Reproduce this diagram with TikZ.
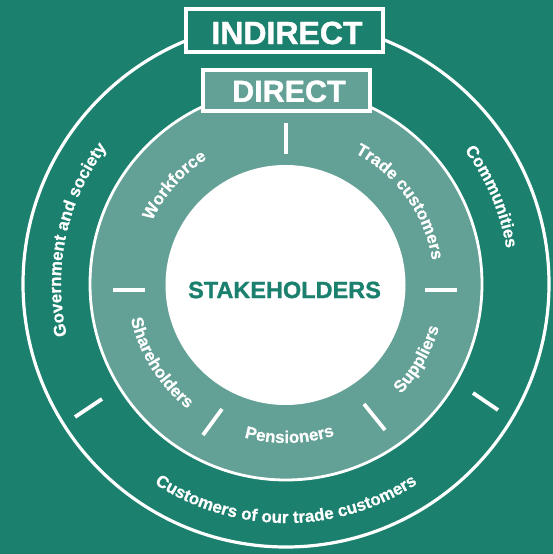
\documentclass[tikz,border=0pt]{standalone}
\usepackage{fontspec}
\setmainfont{Liberation Sans}
\newfontfamily\heavyfont{Liberation Sans Bold}[FakeBold=1.2]
\newfontfamily\ringfont{Liberation Sans Bold}[FakeBold=0.6]
\usetikzlibrary{decorations.text,calc}
\definecolor{darkteal}{RGB}{27,128,109}
\definecolor{lightteal}{RGB}{99,160,149}
\newcommand\curvefont{\fontsize{17}{17}\ringfont}
\newcommand\ringtextcw[3]{\path[decorate,decoration={text along path,text align=center,text color=white,text={|\curvefont|#3}}] ($(C)+({#1+60}:#2)$) arc[start angle={#1+60},end angle={#1-60},radius=#2];}
\newcommand\ringtextccw[3]{\path[decorate,decoration={text along path,text align=center,text color=white,text={|\curvefont|#3}}] ($(C)+({#1-60}:#2)$) arc[start angle={#1-60},end angle={#1+60},radius=#2];}
\begin{document}
\begin{tikzpicture}[x=1pt,y=1pt,
  divider/.style={white,line width=3.8pt},
  boxlabel/.style={text=white,inner sep=0pt}]
\useasboundingbox (0,0) rectangle (553,554);
\fill[darkteal] (0,0) rectangle (553,554);
\coordinate (C) at (286,270);
% rings
\draw[white,line width=3.2pt] (C) circle[radius=263];
\draw[white,line width=2.8pt,fill=lightteal] (C) circle[radius=196];
\fill[white] (285.5,269) circle[radius=120];
% inner dividers
\draw[divider] (286,431) -- (286,400);
\draw[divider] (113,264) -- (145,264);
\draw[divider] (425,264) -- (457,264);
\draw[divider] (203,119) -- (222,145);
\draw[divider] (364,150) -- (385,124);
% outer dividers
\draw[divider] (75,137) -- (102,155);
\draw[divider] (473,161) -- (498,144);
% centre
\node[font=\fontsize{23.5}{24}\heavyfont,text=darkteal,inner sep=0pt] (stake) at (284.5,264) {STAKEHOLDERS};
% boxes
\node[draw=white,line width=4pt,fill=darkteal,minimum width=197pt,minimum height=43pt,inner sep=0pt] (indirect) at (284.5,523.5) {};
\node[boxlabel,font=\fontsize{32}{32}\heavyfont] (indirectlabel) at (287,521) {INDIRECT};
\node[draw=white,line width=3.7pt,fill=lightteal,minimum width=167.5pt,minimum height=41.5pt,inner sep=0pt] (direct) at (286.5,463.5) {};
\node[boxlabel,font=\fontsize{30.5}{31}\heavyfont] (directlabel) at (288.9,462.7) {DIRECT};
% ring texts
\ringtextcw{138.5}{148}{Workforce}
\ringtextcw{35.7}{148}{Trade customers}
\ringtextccw{212.2}{159}{Shareholders}
\ringtextccw{-88.7}{159}{Pensioners}
\ringtextccw{-29.8}{159}{Suppliers}
\ringtextcw{168}{225}{Government and society}
\ringtextcw{23}{223}{Communities}
\ringtextccw{-90}{239}{Customers of our trade customers}
\end{tikzpicture}
\end{document}
